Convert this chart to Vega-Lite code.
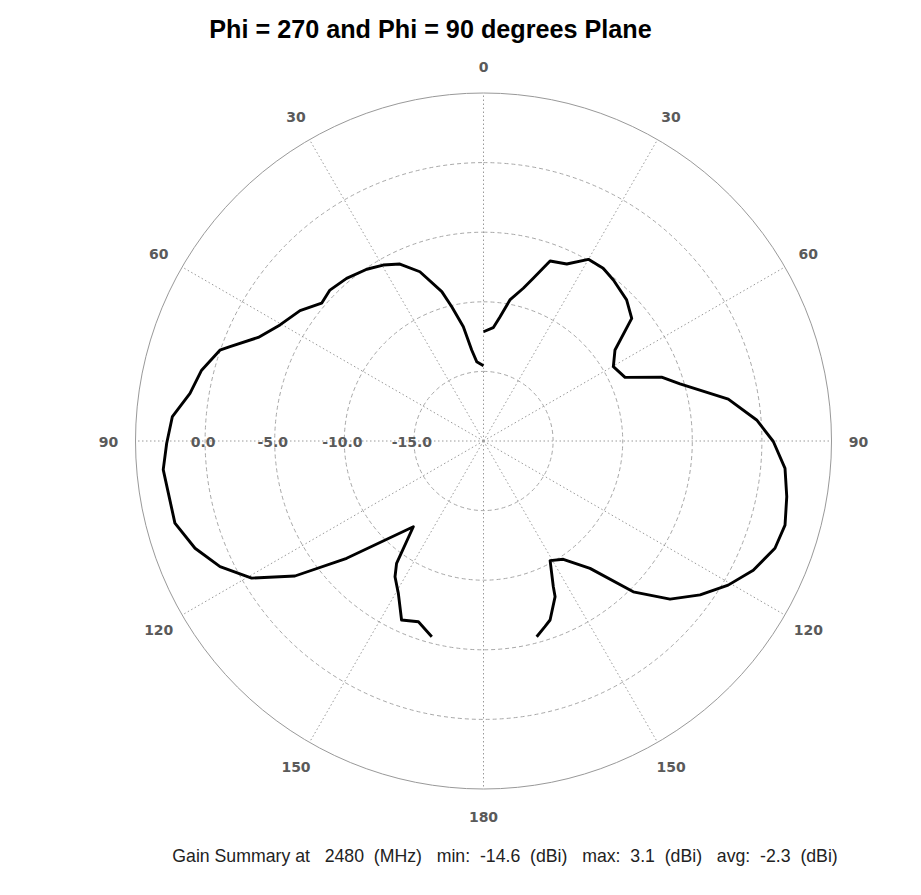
{
  "$schema": "https://vega.github.io/schema/vega-lite/v6.json",
  "width": 696,
  "height": 696,
  "autosize": "none",
  "padding": {"left": 135.5, "top": 93, "right": 89.5, "bottom": 106},
  "background": "white",
  "config": {"view": {"stroke": null}},
  "title": {
    "text": "Phi = 270 and Phi = 90 degrees Plane",
    "font": "Liberation Sans",
    "fontSize": 25.2,
    "fontWeight": "bold",
    "color": "#000000",
    "anchor": "middle",
    "frame": "group",
    "dx": -53,
    "dy": 26,
    "baseline": "alphabetic",
    "offset": 24
  },
  "datasets": {
    "rings": [
      {"gain": -15},
      {"gain": -10},
      {"gain": -5},
      {"gain": 0}
    ],
    "ringlabels": [
      {"gain": -15, "label": "-15.0"},
      {"gain": -10, "label": "-10.0"},
      {"gain": -5, "label": "-5.0"},
      {"gain": 0, "label": "0.0"}
    ],
    "outer": [{"gain": 5}],
    "spokes": [
      {"angle": 0}, {"angle": 30}, {"angle": 60}, {"angle": 90}, {"angle": 120}, {"angle": 150},
      {"angle": 180}, {"angle": 210}, {"angle": 240}, {"angle": 270}, {"angle": 300}, {"angle": 330}
    ],
    "anglelabels": [
      {"angle": 0, "label": "0"}, {"angle": 30, "label": "30"}, {"angle": 60, "label": "60"},
      {"angle": 90, "label": "90"}, {"angle": 120, "label": "120"}, {"angle": 150, "label": "150"},
      {"angle": 180, "label": "180"}, {"angle": -30, "label": "30"}, {"angle": -60, "label": "60"},
      {"angle": -90, "label": "90"}, {"angle": -120, "label": "120"}, {"angle": -150, "label": "150"}
    ],
    "pattern": [
      {"side": "Phi90", "theta": 0, "gain": -12.15},
      {"side": "Phi90", "theta": 4.9, "gain": -11.83},
      {"side": "Phi90", "theta": 7.6, "gain": -10.99},
      {"side": "Phi90", "theta": 10.6, "gain": -9.69},
      {"side": "Phi90", "theta": 14.6, "gain": -8.66},
      {"side": "Phi90", "theta": 17.0, "gain": -7.77},
      {"side": "Phi90", "theta": 20.3, "gain": -6.21},
      {"side": "Phi90", "theta": 25.2, "gain": -5.95},
      {"side": "Phi90", "theta": 30.0, "gain": -4.93},
      {"side": "Phi90", "theta": 34.7, "gain": -4.90},
      {"side": "Phi90", "theta": 38.9, "gain": -5.14},
      {"side": "Phi90", "theta": 45.4, "gain": -5.56},
      {"side": "Phi90", "theta": 50.4, "gain": -6.18},
      {"side": "Phi90", "theta": 55.3, "gain": -8.51},
      {"side": "Phi90", "theta": 60.2, "gain": -9.25},
      {"side": "Phi90", "theta": 65.8, "gain": -8.85},
      {"side": "Phi90", "theta": 70.3, "gain": -6.41},
      {"side": "Phi90", "theta": 73.8, "gain": -5.30},
      {"side": "Phi90", "theta": 80.3, "gain": -2.16},
      {"side": "Phi90", "theta": 85.6, "gain": -0.32},
      {"side": "Phi90", "theta": 90.1, "gain": 0.82},
      {"side": "Phi90", "theta": 95.2, "gain": 1.75},
      {"side": "Phi90", "theta": 100.4, "gain": 2.15},
      {"side": "Phi90", "theta": 105.6, "gain": 2.49},
      {"side": "Phi90", "theta": 110.2, "gain": 2.31},
      {"side": "Phi90", "theta": 115.6, "gain": 1.49},
      {"side": "Phi90", "theta": 120.5, "gain": 0.40},
      {"side": "Phi90", "theta": 125.4, "gain": -0.91},
      {"side": "Phi90", "theta": 130.3, "gain": -2.43},
      {"side": "Phi90", "theta": 135.2, "gain": -4.73},
      {"side": "Phi90", "theta": 140.1, "gain": -8.07},
      {"side": "Phi90", "theta": 146.0, "gain": -9.75},
      {"side": "Phi90", "theta": 150.9, "gain": -10.16},
      {"side": "Phi90", "theta": 154.4, "gain": -8.39},
      {"side": "Phi90", "theta": 155.3, "gain": -7.69},
      {"side": "Phi90", "theta": 159.6, "gain": -6.28},
      {"side": "Phi90", "theta": 161.7, "gain": -5.95},
      {"side": "Phi90", "theta": 164.8, "gain": -5.43},
      {"side": "Phi270", "theta": 0, "gain": -14.6},
      {"side": "Phi270", "theta": 4.9, "gain": -14.28},
      {"side": "Phi270", "theta": 7.4, "gain": -13.41},
      {"side": "Phi270", "theta": 10.0, "gain": -11.66},
      {"side": "Phi270", "theta": 13.3, "gain": -10.09},
      {"side": "Phi270", "theta": 15.6, "gain": -8.86},
      {"side": "Phi270", "theta": 20.6, "gain": -7.01},
      {"side": "Phi270", "theta": 25.3, "gain": -5.94},
      {"side": "Phi270", "theta": 29.7, "gain": -5.45},
      {"side": "Phi270", "theta": 34.2, "gain": -5.08},
      {"side": "Phi270", "theta": 40.1, "gain": -4.73},
      {"side": "Phi270", "theta": 45.5, "gain": -4.53},
      {"side": "Phi270", "theta": 49.6, "gain": -4.73},
      {"side": "Phi270", "theta": 54.6, "gain": -3.83},
      {"side": "Phi270", "theta": 60.3, "gain": -3.17},
      {"side": "Phi270", "theta": 65.3, "gain": -2.19},
      {"side": "Phi270", "theta": 69.6, "gain": -0.57},
      {"side": "Phi270", "theta": 71.0, "gain": 0.03},
      {"side": "Phi270", "theta": 75.9, "gain": 0.88},
      {"side": "Phi270", "theta": 80.8, "gain": 1.36},
      {"side": "Phi270", "theta": 85.5, "gain": 2.42},
      {"side": "Phi270", "theta": 90.4, "gain": 2.76},
      {"side": "Phi270", "theta": 95.1, "gain": 3.1},
      {"side": "Phi270", "theta": 104.9, "gain": 2.94},
      {"side": "Phi270", "theta": 110.4, "gain": 2.11},
      {"side": "Phi270", "theta": 115.5, "gain": 0.97},
      {"side": "Phi270", "theta": 120.6, "gain": -0.65},
      {"side": "Phi270", "theta": 125.6, "gain": -3.34},
      {"side": "Phi270", "theta": 130.6, "gain": -7.05},
      {"side": "Phi270", "theta": 140.7, "gain": -12.04},
      {"side": "Phi270", "theta": 144.6, "gain": -9.22},
      {"side": "Phi270", "theta": 146.9, "gain": -8.36},
      {"side": "Phi270", "theta": 150.8, "gain": -7.46},
      {"side": "Phi270", "theta": 155.4, "gain": -5.86},
      {"side": "Phi270", "theta": 160.2, "gain": -6.20},
      {"side": "Phi270", "theta": 165.2, "gain": -5.46}
    ]
  },
  "encoding": {
    "x": {
      "field": "x",
      "type": "quantitative",
      "scale": {"domain": [-25, 25], "nice": false, "zero": false},
      "axis": {
        "title": "Gain Summary at\u00a0\u00a0\u00a02480\u00a0\u00a0(MHz)\u00a0\u00a0\u00a0min:\u00a0\u00a0-14.6\u00a0\u00a0(dBi)\u00a0\u00a0\u00a0max:\u00a0\u00a03.1\u00a0\u00a0(dBi)\u00a0\u00a0\u00a0avg:\u00a0\u00a0-2.3\u00a0\u00a0(dBi)",
        "labels": false,
        "ticks": false,
        "domain": false,
        "grid": false,
        "titleFont": "Liberation Sans",
        "titleFontSize": 17.7,
        "titleFontWeight": "normal",
        "titleColor": "#222222",
        "titleX": 369,
        "titleY": 72,
        "titleAlign": "center",
        "titleBaseline": "alphabetic"
      }
    },
    "y": {
      "field": "y",
      "type": "quantitative",
      "scale": {"domain": [-25, 25], "nice": false, "zero": false},
      "axis": null
    }
  },
  "layer": [
    {
      "data": {"name": "rings"},
      "transform": [
        {"calculate": "0", "as": "x"},
        {"calculate": "0", "as": "y"},
        {"calculate": "datum.gain + 20", "as": "r"}
      ],
      "mark": {"type": "arc", "filled": false, "stroke": "#a8a8a8", "strokeWidth": 1, "strokeDash": [4, 3], "theta": 0, "theta2": 6.283185307179586},
      "encoding": {
        "radius": {"field": "r", "type": "quantitative", "stack": null, "scale": {"type": "linear", "domain": [0, 25], "range": [0, 348], "zero": true}}
      }
    },
    {
      "data": {"name": "outer"},
      "transform": [
        {"calculate": "0", "as": "x"},
        {"calculate": "0", "as": "y"},
        {"calculate": "datum.gain + 20", "as": "r"}
      ],
      "mark": {"type": "arc", "filled": false, "stroke": "#999999", "strokeWidth": 1, "theta": 0, "theta2": 6.283185307179586},
      "encoding": {
        "radius": {"field": "r", "type": "quantitative", "stack": null, "scale": {"type": "linear", "domain": [0, 25], "range": [0, 348], "zero": true}}
      }
    },
    {
      "data": {"name": "spokes"},
      "transform": [
        {"calculate": "0", "as": "x"},
        {"calculate": "0", "as": "y"},
        {"calculate": "25 * sin(datum.angle * PI / 180)", "as": "x2"},
        {"calculate": "25 * cos(datum.angle * PI / 180)", "as": "y2"}
      ],
      "mark": {"type": "rule", "stroke": "#9a9a9a", "strokeWidth": 1, "strokeDash": [1.5, 2.5]},
      "encoding": {
        "x2": {"field": "x2"},
        "y2": {"field": "y2"}
      }
    },
    {
      "data": {"name": "pattern"},
      "transform": [
        {"calculate": "(datum.side == 'Phi270' ? -1 : 1) * (datum.gain + 20) * sin(datum.theta * PI / 180)", "as": "x"},
        {"calculate": "(datum.gain + 20) * cos(datum.theta * PI / 180)", "as": "y"}
      ],
      "mark": {"type": "line", "color": "#000000", "strokeWidth": 2.9, "strokeJoin": "round"},
      "encoding": {
        "detail": {"field": "side", "type": "nominal"},
        "order": {"field": "theta", "type": "quantitative"}
      }
    },
    {
      "data": {"name": "ringlabels"},
      "transform": [
        {"calculate": "-(datum.gain + 20)", "as": "x"},
        {"calculate": "0", "as": "y"}
      ],
      "mark": {"type": "text", "font": "DejaVu Sans", "fontSize": 14, "fontWeight": "bold", "color": "#5a5a5a", "align": "center", "baseline": "middle", "dx": -2, "dy": 2},
      "encoding": {
        "text": {"field": "label", "type": "nominal"}
      }
    },
    {
      "data": {"name": "anglelabels"},
      "transform": [
        {"calculate": "26.94 * sin(datum.angle * PI / 180)", "as": "x"},
        {"calculate": "26.94 * cos(datum.angle * PI / 180)", "as": "y"}
      ],
      "mark": {"type": "text", "font": "DejaVu Sans", "fontSize": 14, "fontWeight": "bold", "color": "#5a5a5a", "align": "center", "baseline": "middle", "dy": 2},
      "encoding": {
        "text": {"field": "label", "type": "nominal"}
      }
    }
  ]
}
